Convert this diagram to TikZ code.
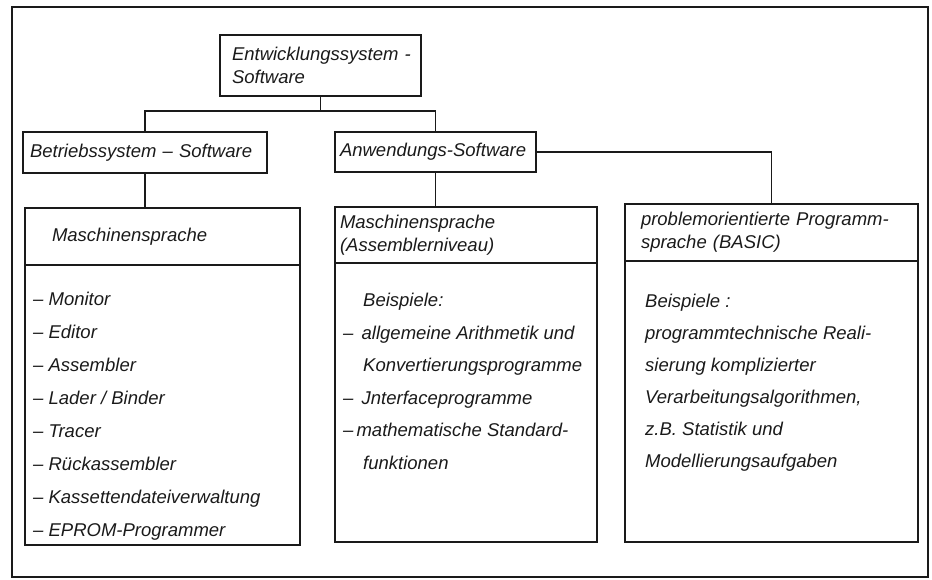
\documentclass[tikz,border=0pt]{standalone}
\usepackage{fontspec}
\setmainfont{Liberation Sans}
\usepackage{tikz}
\usetikzlibrary{positioning,calc}
\definecolor{ink}{HTML}{1A1A1A}
\tikzset{
  frame/.style={draw=ink,line width=1.6pt},
  link/.style={draw=ink,line width=1.4pt},
  box/.style={draw=ink,line width=1.8pt,outer sep=0pt,anchor=north west,
    align=left,text=ink,inner ysep=0pt,
    font=\fontsize{18.5}{23}\selectfont\itshape},
  bodybox/.style={draw=ink,line width=1.8pt,outer sep=0pt},
  listtext/.style={anchor=base west,align=left,inner sep=0pt,text=ink,
    font=\fontsize{18.5}{33}\selectfont\itshape}
}
\begin{document}
\begin{tikzpicture}[x=1pt,y=-1pt]
  \useasboundingbox (0,0) rectangle (932,579);
  \draw[frame] (12,7) rectangle (928,577);
  % top level
  \node[box,minimum width=201pt,minimum height=61pt,inner xsep=12pt,text width=177pt] (top) at (220,35)
    {\mbox{Entwicklungssystem -}\\Software};
  % second level
  \node[box,minimum width=244pt,minimum height=41pt,inner xsep=7pt,text width=230pt] (bss) at (23,132)
    {\mbox{Betriebssystem -- Software}};
  \node[box,minimum width=201pt,minimum height=40pt,inner xsep=5pt,text width=191pt] (anw) at (335,132)
    {\mbox{Anwendungs-Software}};
  % columns
  \node[box,minimum width=275pt,minimum height=57pt,inner xsep=27pt,text width=221pt] (lhead) at (25,208)
    {Maschinensprache};
  \node[bodybox,minimum width=275pt,minimum height=280pt,below=0pt of lhead] (lbody) {};
  \node[box,minimum width=262pt,minimum height=56pt,inner xsep=5pt,text width=252pt] (mhead) at (335,207)
    {Maschinensprache\\(Assemblerniveau)};
  \node[bodybox,minimum width=262pt,minimum height=279pt,below=0pt of mhead] (mbody) {};
  \node[box,minimum width=293pt,minimum height=57pt,inner xsep=16pt,text width=261pt] (rhead) at (625,204)
    {\mbox{problemorientierte Programm-}\\sprache (BASIC)};
  \node[bodybox,minimum width=293pt,minimum height=281pt,below=0pt of rhead] (rbody) {};
  % texts of the columns (base = last line)
  \node[listtext] (ltext) at (33,536)
    {-- Monitor\\-- Editor\\-- Assembler\\-- Lader / Binder\\-- Tracer\\-- R\"uckassembler\\
     -- Kassettendateiverwaltung\\-- EPROM-Programmer};
  \node[listtext,font=\fontsize{18.5}{32.5}\selectfont\itshape] (mtext) at (343,469)
    {\hspace*{20pt}Beispiele:\\--~\,allgemeine Arithmetik und\\
     \hspace*{20pt}Konvertierungsprogramme\\--~\,Jnterfaceprogramme\\
     --\,mathematische Standard-\\\hspace*{20pt}funktionen};
  \node[listtext,font=\fontsize{18.5}{32}\selectfont\itshape] (rtext) at (645,467)
    {Beispiele :\\programmtechnische Reali-\\sierung komplizierter\\
     Verarbeitungsalgorithmen,\\z.B. Statistik und\\Modellierungsaufgaben};
  % connectors
  \draw[link] (top.south) -- ++(0,15) coordinate (j);
  \draw[link] (bss.north) |- (j) -| (anw.north);
  \draw[link] (bss.south) -- (bss.south |- lhead.north);
  \draw[link] (anw.south) -- (anw.south |- mhead.north);
  \draw[link] (anw.east) -| (rhead.north);
\end{tikzpicture}
\end{document}
